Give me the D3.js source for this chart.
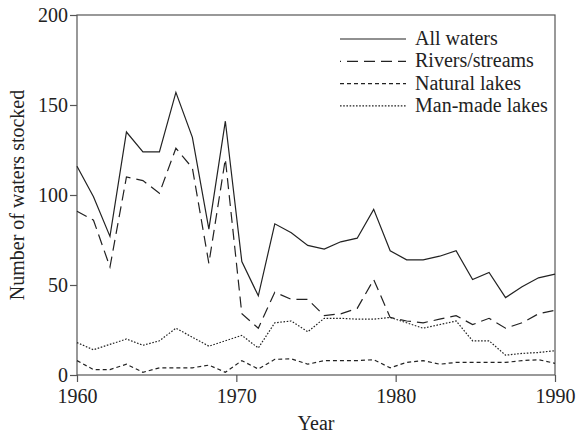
<!DOCTYPE html>
<html>
<head>
<meta charset="utf-8">
<script src="https://cdn.jsdelivr.net/npm/d3@7"></script>
<style>
  body { margin: 0; background: #fff; }
  svg text { font-family: "Liberation Serif", "DejaVu Serif", serif; fill: #222; }
</style>
</head>
<body>
<svg id="canvas" width="576" height="436"></svg>
<script>
// 30 yearly values, drawn across the 1960-1990 axis as in the original figure
let years = [1960, 1961, 1962, 1963, 1964, 1965, 1966, 1967, 1968, 1969,
             1970, 1971, 1972, 1973, 1974, 1975, 1976, 1977, 1978, 1979,
             1980, 1981, 1982, 1983, 1984, 1985, 1986, 1987, 1988, 1989]

let allWaters = [116, 99, 77, 135, 124, 124, 157, 132, 81, 141,
                 63, 44, 84, 79, 72, 70, 74, 76, 92, 69,
                 64, 64, 66, 69, 53, 57, 43, 49, 54, 56]

let riversStreams = [91, 86, 60, 110, 108, 101, 126, 115, 62, 120,
                     34, 26, 46, 42, 42, 33, 34, 37, 53, 32,
                     30, 29, 31, 33, 28, 31.5, 26, 29, 34, 36]

let naturalLakes = [8, 3, 3, 6, 1.5, 4, 4, 4, 5.5, 1.5,
                    8, 3.3, 8.7, 9, 6, 8, 8, 8, 8.5, 4,
                    7, 8, 6, 7, 7, 7, 7, 8, 8.5, 6.5]

let manMadeLakes = [18, 14, 17, 20, 16.5, 19, 26, 21, 16, 19,
                    22, 15, 29, 30, 24, 31.5, 31.5, 31, 31, 32,
                    29, 26, 28, 30, 19, 19, 11, 12, 12.5, 13.5]

let seriesNames = ['All waters', 'Rivers/streams', 'Natural lakes', 'Man-made lakes']
let xTicks = [1960, 1970, 1980, 1990]
let yTicks = [0, 50, 100, 150, 200]

let dashes = [null, '11,6', '4,3', '1.6,1.6']
let legendOffsets = [0, 10, 0, 0]

let margin = { left: 77, right: 21, top: 15, bottom: 61 }
let width = 576
let height = 436

let canvas = d3.select('#canvas')

let xAxisScale = d3.scaleLinear().domain([1960, 1990]).range([margin.left, width - margin.right])
let xScale = d3.scaleLinear().domain([years[0], years[years.length - 1]]).range([margin.left, width - margin.right])
let yScale = d3.scaleLinear().domain([0, 200]).range([height - margin.bottom, margin.top])

// frame
canvas.append('rect')
    .attr('x', margin.left)
    .attr('y', margin.top)
    .attr('width', width - margin.left - margin.right)
    .attr('height', height - margin.top - margin.bottom)
    .attr('fill', 'none')
    .attr('stroke', '#555')
    .attr('stroke-width', 1.2)

let xAxis = d3.axisBottom(xAxisScale).tickValues(xTicks).tickFormat(d3.format('d')).tickSize(7).tickPadding(7)
let yAxis = d3.axisLeft(yScale).tickValues(yTicks).tickSize(7).tickPadding(2)

let styleAxis = (g) => {
    g.select('.domain').remove()
    g.selectAll('line').attr('stroke', '#555').attr('stroke-width', 1.2)
    g.selectAll('text').attr('font-size', 20).attr('font-family', '"Liberation Serif", serif').attr('fill', '#222')
}

canvas.append('g')
    .attr('transform', `translate(0, ${height - margin.bottom})`)
    .call(xAxis)
    .call(styleAxis)

canvas.append('g')
    .attr('transform', `translate(${margin.left}, 0)`)
    .call(yAxis)
    .call(styleAxis)

// axis titles
canvas.append('text')
    .attr('x', (margin.left + width - margin.right) / 2)
    .attr('y', 430)
    .attr('text-anchor', 'middle')
    .attr('font-size', 20)
    .text('Year')

canvas.append('text')
    .attr('transform', `translate(24, ${(margin.top + height - margin.bottom) / 2}) rotate(-90)`)
    .attr('text-anchor', 'middle')
    .attr('font-size', 20)
    .text('Number of waters stocked')

let allSeries = [allWaters, riversStreams, naturalLakes, manMadeLakes]

let line = d3.line()
    .x((d, i) => xScale(years[i]))
    .y(d => yScale(d))

canvas.selectAll('path.series')
    .data(allSeries)
    .enter()
    .append('path')
    .attr('class', 'series')
    .attr('d', line)
    .attr('fill', 'none')
    .attr('stroke', '#222')
    .attr('stroke-width', 1.2)
    .attr('stroke-dasharray', (d, i) => dashes[i])

// legend
let legend = canvas.selectAll('g.legend')
    .data(seriesNames)
    .enter()
    .append('g')
    .attr('class', 'legend')
    .attr('transform', (d, i) => `translate(340, ${39 + i * 22.3})`)

legend.append('line')
    .attr('x1', 0)
    .attr('x2', 66)
    .attr('stroke', '#222')
    .attr('stroke-width', 1.2)
    .attr('stroke-dasharray', (d, i) => dashes[i])
    .attr('stroke-dashoffset', (d, i) => legendOffsets[i])

legend.append('text')
    .attr('x', 75)
    .attr('y', 6)
    .attr('font-size', 20)
    .text(d => d)
</script>
</body>
</html>
